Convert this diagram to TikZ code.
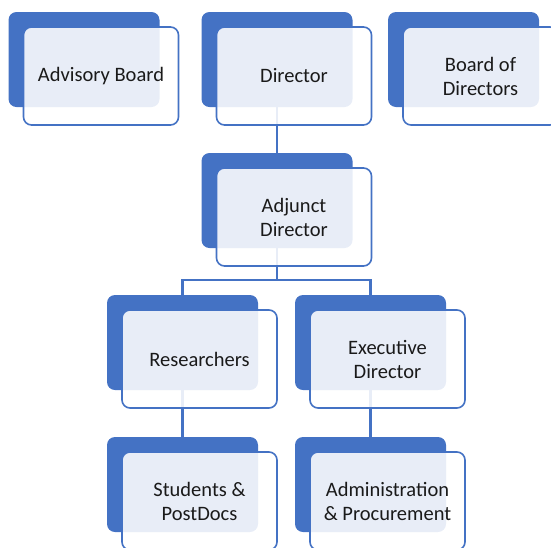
\documentclass[tikz,border=0pt]{standalone}
\usepackage{fontspec}
\setmainfont{Carlito}
\usepackage{tikz}
\usetikzlibrary{
  positioning,
  scopes
}
\definecolor{boxblue}{HTML}{4472C4}
\definecolor{textgray}{HTML}{1A1A1A}

\begin{document}
\begin{tikzpicture}[x=1pt,y=-1pt,
      backbox/.style={
         rectangle,
         rounded corners=8pt,
         fill=boxblue,
         inner sep=0pt,
         minimum width=151pt,
         minimum height=95pt
      },
      frontbox/.style={
         rectangle,
         rounded corners=8pt,
         draw=boxblue,
         line width=1.6pt,
         fill=white,
         fill opacity=0.88,
         text opacity=1,
         text=textgray,
         inner sep=0pt,
         minimum width=155pt,
         minimum height=98pt,
         align=center,
         font=\fontsize{20.5}{24}\selectfont
      },
      point/.style={coordinate},
      link/.style={draw=boxblue,line width=2.4pt},
      hv path/.style={to path={-| (\tikztotarget)}},
      front shift/.style={shift={(17,16.5)}}
    ]
    \useasboundingbox (0,0) rectangle (551,547);
    % back plates
    \node (b11) [backbox] at (84,59.5) {};
    \node (b12) [backbox] at (277,59.5) {};
    \node (b13) [backbox] at (463.5,59.5) {};
    \node (b22) [backbox] at (277,200.5) {};
    \node (b31) [backbox] at (182.5,342.5) {};
    \node (b32) [backbox] at (370.5,342.5) {};
    \node (b41) [backbox] at (182.5,484.5) {};
    \node (b42) [backbox] at (370.5,484.5) {};
    \node (f22) [point] at (277,280) {};
    % links
    \draw [link] (b12) -- (b22);
    \draw [link] (b22) -- (f22);
    \draw [link] (f22) to [hv path] (b31);
    \draw [link] (f22) to [hv path] (b32);
    \draw [link] (b31) -- (b41);
    \draw [link] (b32) -- (b42);
    % front cards
    \node (n11) [frontbox] at ([front shift]b11.center) {Advisory Board};
    \node (n12) [frontbox] at ([front shift]b12.center) {Director};
    \node (n13) [frontbox] at ([front shift]b13.center) {Board of\\Directors};
    \node (n22) [frontbox] at ([front shift]b22.center) {Adjunct\\Director};
    \node (n31) [frontbox] at ([front shift]b31.center) {Researchers};
    \node (n32) [frontbox] at ([front shift]b32.center) {Executive\\Director};
    \node (n41) [frontbox] at ([front shift]b41.center) {Students \&\\PostDocs};
    \node (n42) [frontbox] at ([front shift]b42.center) {Administration\\\& Procurement};
\end{tikzpicture}
\end{document}
